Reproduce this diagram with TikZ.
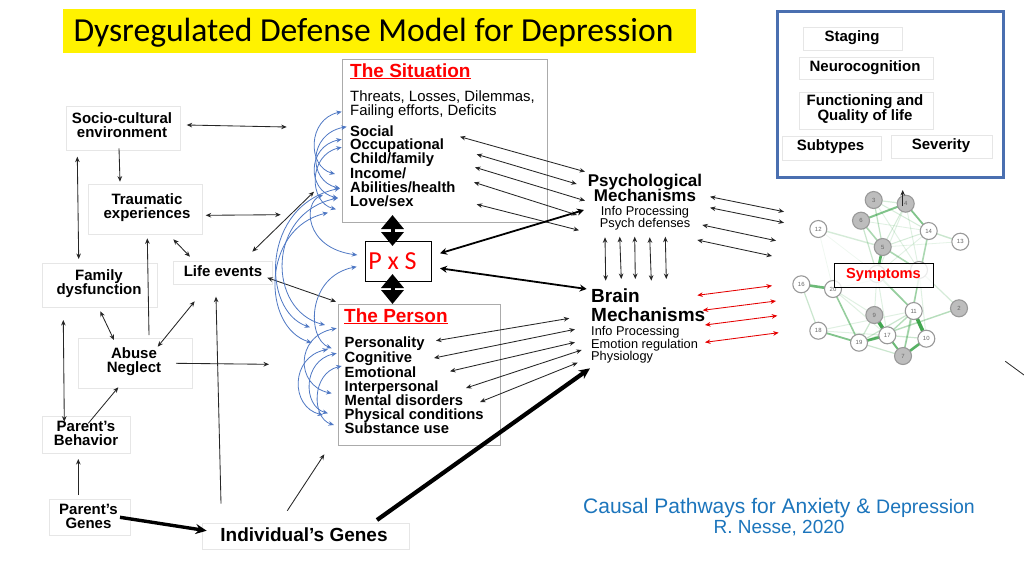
\documentclass[tikz,border=0pt]{standalone}
\usepackage{fontspec}
\setmainfont{Liberation Sans}
\newfontfamily\calib{Carlito}
\usetikzlibrary{arrows.meta}
\definecolor{boxgray}{HTML}{E6E6E6}
\definecolor{framegray}{HTML}{ABABAB}
\definecolor{arcblue}{HTML}{4F78C4}
\definecolor{framedblue}{HTML}{4A6FB0}
\definecolor{netgreen}{HTML}{2E9E3E}
\definecolor{footblue}{HTML}{1C75BC}
\definecolor{netfill}{HTML}{BDBDBD}
\definecolor{netline}{HTML}{999999}
\definecolor{netlabel}{HTML}{666666}
\newcommand{\fsz}[1]{\fontsize{#1}{14}\selectfont}
\tikzset{
  box/.style={draw=boxgray,line width=.8pt,fill=white,inner sep=0pt},
  frame/.style={draw=framegray,line width=.9pt,fill=white,inner sep=0pt},
  btxt/.style={inner sep=0pt,align=center,font=\fsz{15}\bfseries},
  txt/.style={inner sep=0pt,anchor=base west},
  ctr/.style={inner sep=0pt,anchor=base},
  listb/.style={txt,font=\fsz{14.8}\bfseries},
  small/.style={font=\fsz{12.8}},
  thin2/.style={line width=.85pt,draw=black!85,{Stealth[length=5.5pt,width=4.6pt]}-{Stealth[length=5.5pt,width=4.6pt]}},
  thin1/.style={line width=.85pt,draw=black!85,-{Stealth[length=5.5pt,width=4.6pt]}},
  red2/.style={line width=.85pt,draw=red!90!black,{Stealth[length=5.5pt,width=4.6pt]}-{Stealth[length=5.5pt,width=4.6pt]}},
  heavy2/.style={line width=1.8pt,{Stealth[length=7pt,width=7pt]}-{Stealth[length=7pt,width=7pt]}},
  heavy1/.style={line width=#1,-{Stealth[length=11pt,width=10pt]}},
  fat2/.style={line width=4pt,{Triangle[length=14pt,width=22pt]}-{Triangle[length=14pt,width=22pt]}},
  arc/.style={line width=.8pt,draw=arcblue,{Stealth[length=5.5pt,width=4.6pt]}-{Stealth[length=5.5pt,width=4.6pt]}},
  nwhite/.style={circle,draw=netline,line width=1.1pt,fill=white,minimum size=17pt,inner sep=0pt,text=netlabel,font=\fsz{6}},
  ngrey/.style={nwhite,fill=netfill},
}
\begin{document}
\begin{tikzpicture}[x=1pt,y=-1pt]
\useasboundingbox (0,0) rectangle (1024,576);
\fill[white] (0,0) rectangle (1024,576);

% title
\node[fill=yellow,minimum width=633pt,minimum height=44pt,inner sep=0pt] (title) at (379.5,31) {};
\node[inner sep=0pt,font=\calib\fsz{33.6}] (titleT) at (373.5,33) {Dysregulated Defense Model for Depression};

% framed panel
\node[draw=framedblue,line width=3pt,fill=white,minimum width=226pt,minimum height=166pt,inner sep=0pt] (panel) at (890.5,94) {};
\node[box,minimum width=99pt,minimum height=23pt] (staging) at (852.5,38.5) {};
\node[btxt] (stagingT) at (852,38) {Staging};
\node[box,minimum width=134pt,minimum height=22pt] (neuro) at (866,68) {};
\node[btxt] (neuroT) at (865,67.5) {Neurocognition};
\node[box,minimum width=134pt,minimum height=37pt] (func) at (866,110.5) {};
\node[btxt] (funcT) at (865,109) {Functioning and\\Quality of life};
\node[box,minimum width=99pt,minimum height=24pt] (subt) at (831.5,148) {};
\node[btxt] (subtT) at (830.5,147) {Subtypes};
\node[box,minimum width=101pt,minimum height=23pt] (sev) at (941.5,146.5) {};
\node[btxt] (sevT) at (941,146) {Severity};

% left boxes
\node[box,minimum width=114pt,minimum height=44pt] (socio) at (123,128) {};
\node[btxt] (socioT) at (122,125) {Socio-cultural\\environment};
\node[box,minimum width=114pt,minimum height=50pt] (trauma) at (145,209) {};
\node[btxt] (traumaT) at (147,208) {Traumatic\\experiences};
\node[box,minimum width=115pt,minimum height=44pt] (family) at (99.5,285) {};
\node[btxt] (familyT) at (99,284) {Family\\dysfunction};
\node[box,minimum width=99pt,minimum height=23pt] (life) at (222.5,272.5) {};
\node[btxt] (lifeT) at (223,271) {Life events};
\node[box,minimum width=114pt,minimum height=50pt] (abuse) at (135,363) {};
\node[btxt] (abuseT) at (134,362) {Abuse\\Neglect};
\node[box,minimum width=88pt,minimum height=37pt] (behav) at (86,434.5) {};
\node[btxt] (behavT) at (86,433.5) {Parent’s\\Behavior};
\node[box,minimum width=81pt,minimum height=36pt] (pgenes) at (89.5,517) {};
\node[btxt] (pgenesT) at (88.5,516) {Parent’s\\Genes};
\node[box,minimum width=207pt,minimum height=26pt] (igenes) at (305.5,536) {};
\node[btxt,font=\fsz{19}\bfseries] (igenesT) at (304,534.5) {Individual’s Genes};

% situation
\node[frame,minimum width=205pt,minimum height=163pt] (sit) at (444.5,140.5) {};
\node[txt,text=red,font=\fsz{19}\bfseries] (sitH) at (350,77) {\underline{The Situation}};
\node[txt,font=\fsz{14.9}] (sitA) at (350,101) {Threats, Losses, Dilemmas,};
\node[txt,font=\fsz{14.9}] (sitB) at (350,115) {Failing efforts, Deficits};
\node[listb] (s1) at (350,136) {Social};
\node[listb] (s2) at (350,149.5) {Occupational};
\node[listb] (s3) at (350,163.5) {Child/family};
\node[listb] (s4) at (350,178.3) {Income/};
\node[listb] (s5) at (350,192.3) {Abilities/health};
\node[listb] (s6) at (350,206) {Love/sex};

% P x S
\node[draw=black,line width=.9pt,fill=white,minimum width=66pt,minimum height=40pt,inner sep=0pt] (pxs) at (398,261) {};
\node[inner sep=0pt,text=red,font=\calib\fsz{26}] (pxsT) at (392.5,261) {P\hspace{.22em}x\hspace{.22em}S};

% person
\node[frame,minimum width=162pt,minimum height=141pt] (per) at (419,374.5) {};
\node[txt,text=red,font=\fsz{19}\bfseries] (perH) at (344,322) {\underline{The Person}};
\node[listb] (p1) at (344.5,347.7) {Personality};
\node[listb] (p2) at (344.5,362.7) {Cognitive};
\node[listb] (p3) at (344.5,377) {Emotional};
\node[listb] (p4) at (344.5,391.3) {Interpersonal};
\node[listb] (p5) at (344.5,405.7) {Mental disorders};
\node[listb] (p6) at (344.5,419.3) {Physical conditions};
\node[listb] (p7) at (344.5,433.3) {Substance use};

% mechanisms
\node[ctr,font=\fsz{17}\bfseries] (psy1) at (645,186) {Psychological};
\node[ctr,font=\fsz{17}\bfseries] (psy2) at (645,201.7) {Mechanisms};
\node[ctr,small] (psy3) at (645,215) {Info Processing};
\node[ctr,small] (psy4) at (645,227.7) {Psych defenses};
\node[txt,font=\fsz{19}\bfseries] (br1) at (591,302.7) {Brain};
\node[txt,font=\fsz{19}\bfseries] (br2) at (591,321) {Mechanisms};
\node[txt,small] (br3) at (591,335) {Info Processing};
\node[txt,small] (br4) at (591,348.3) {Emotion regulation};
\node[txt,small] (br5) at (591,360) {Physiology};

% footer
\node[inner sep=0pt,text=footblue,font=\fsz{21}] (foot1) at (779,508.5) {Causal Pathways for Anxiety \& {\fsz{19.5}Depression}};
\node[inner sep=0pt,text=footblue,font=\fsz{19}] (foot2) at (779,528) {R. Nesse, 2020};

% network nodes
\foreach \n/\x/\y in {3/873.7/200,4/905.7/203.7,6/861/220.7,12/818.3/229,14/928.7/231,13/960.3/241.7,5/882.7/247,16/801.3/284.3,20/833/289,1/877/274,15/919/270,9/874.3/315,11/913.7/311,2/959/308.3,18/818.3/330.7,19/859/342.7,17/887.3/335.3,10/926.3/338.7,7/903/356}
  {\coordinate (c\n) at (\x,\y);}
\foreach \a/\b/\w/\o in {16/20/2.6/.7,9/17/3.6/.9,11/10/3.6/.9,7/10/2.6/.8,19/17/2.6/.8,17/7/2/.7,6/4/2/.6,4/14/1.8/.6,5/1/2.6/.8,18/19/1.8/.6,20/19/1.6/.5,1/11/1.7/.5,5/15/1.6/.4,14/7/1.6/.4,16/18/1.2/.25,12/5/1.4/.2,14/13/1.4/.25,3/4/1.2/.2,3/5/1.2/.3,6/5/1.6/.4,6/1/1.2/.25,2/19/1.4/.35,17/10/1.2/.25,11/17/1.4/.35,11/19/1.2/.25,19/7/1.2/.25,15/2/1.2/.2,9/19/1.2/.25,18/17/1/.15,18/11/1/.15,4/5/1/.2,4/1/1/.15,3/14/1/.2,5/14/1/.2,5/13/.8/.12,20/15/1/.15,1/17/1/.15,1/9/1/.15,15/11/1/.15,15/10/1/.15,20/9/1/.15,20/17/1/.15,6/14/.8/.15,12/20/.7/.08,14/1/.8/.15,3/15/.9/.15,4/15/.9/.15,12/1/.7/.08,11/7/1.2/.2}
  {\draw[netgreen,line width=\w pt,opacity=\o] (c\a) -- (c\b);}
\foreach \n/\x/\y/\s in {3/873.7/200/ngrey,4/905.7/203.7/ngrey,6/861/220.7/ngrey,12/818.3/229/nwhite,14/928.7/231/nwhite,13/960.3/241.7/nwhite,5/882.7/247/ngrey,16/801.3/284.3/nwhite,20/833/289/nwhite,9/874.3/315/ngrey,11/913.7/311/nwhite,2/959/308.3/ngrey,18/818.3/330.7/nwhite,19/859/342.7/nwhite,17/887.3/335.3/nwhite,10/926.3/338.7/nwhite,7/903/356/ngrey}
  {\node[\s] (n\n) at (\x,\y) {\n};}
\node[nwhite] (n1) at (877,274) {};
\node[nwhite] (n15) at (919,270) {};
\node[draw=black,line width=.9pt,fill=white,fill opacity=.8,text opacity=1,draw opacity=1,minimum width=99pt,minimum height=24pt,inner sep=0pt,text=red,font=\fsz{14.6}\bfseries] (sym) at (883.5,275) {Symptoms};

% two-headed thin arrows
\foreach \n/\ax/\ay/\bx/\by in {
  sociosit/186.7/125/286.7/127, sociofam/77.3/156.7/78.7/259, traumasit/205.7/215.3/280.7/214.7,
  traumalife/173.3/239.3/190/256.7, lifesit/252.3/251.7/314/191.7, lifeper/267.3/277.7/336/301.7,
  abuselife/157.7/346.7/194.7/301.3, famabuse/100.3/311.3/114/340, fambehav/63.3/320/64.3/421.7,
  sitpsyA/460/136.7/585/171.7, sitpsyB/476.7/154.3/576.7/184, sitpsyC/475/167.3/585/200.7,
  sitpsyD/474/182.3/577/215, sitpsyE/476.7/204.3/579/230.3,
  perbrA/436/340.7/569.3/318.3, perbrB/434/358/575/329.3, perbrC/450/371.3/575/342.3,
  perbrD/466/388/581.7/350, perbrE/480/402/577.7/362.7,
  psysymA/710/196.7/784/211.7, psysymB/710/207.7/784/222.7, psysymC/702.3/225/776/240.7, psysymD/697.3/240/772/256,
  vertA/605/237.3/605.7/280.7, vertB/619.7/236.7/621.3/279, vertC/634.7/236.7/635.3/279,
  vertD/649.7/237.3/651.3/280.7, vertE/665.3/236.7/666.3/279}
{\coordinate (\n-a) at (\ax,\ay); \coordinate (\n-b) at (\bx,\by); \draw[thin2] (\n-a) -- (\n-b);}

% one-headed thin arrows
\foreach \n/\ax/\ay/\bx/\by in {
  sociotrauma/119/148.3/120/181.7, abusetrauma/149/335/147.3/238.3, igeneslife/221/503.7/216/296.7,
  abuseright/176/363.3/269/364.3, behavabuse/88.3/423.3/118.3/387.3, pgenesbehav/78.3/495/78.3/459,
  igenesper/287.3/510.7/324.3/454.3, symup/902.7/206/902.7/190}
{\coordinate (\n-a) at (\ax,\ay); \coordinate (\n-b) at (\bx,\by); \draw[thin1] (\n-a) -- (\n-b);}

% red arrows
\foreach \n/\ax/\ay/\bx/\by in {
  brsymA/697.3/295.3/772/285.7, brsymB/702.7/310.3/776/301, brsymC/705/325/777.3/315.7, brsymD/705/342.3/778.7/332.7}
{\coordinate (\n-a) at (\ax,\ay); \coordinate (\n-b) at (\bx,\by); \draw[red2] (\n-a) -- (\n-b);}

% heavy arrows
\coordinate (hpsy-a) at (440,253.3); \coordinate (hpsy-b) at (584,210);
\draw[heavy2] (hpsy-a) -- (hpsy-b);
\coordinate (hbr-a) at (440,268.3); \coordinate (hbr-b) at (586.7,289);
\draw[heavy2] (hbr-a) -- (hbr-b);
\coordinate (genes-a) at (120,517.3); \coordinate (genes-b) at (206.7,530.7);
\draw[heavy1=3.4pt] (genes-a) -- (genes-b);
\coordinate (gbr-a) at (377,520); \coordinate (gbr-b) at (590,368.3);
\draw[heavy1=4.2pt] (gbr-a) -- (gbr-b);
\coordinate (fs-a) at (392.5,215); \coordinate (fs-b) at (392.5,246);
\draw[fat2] (fs-a) -- (fs-b);
\coordinate (fp-a) at (392.5,274); \coordinate (fp-b) at (392.5,304);
\draw[fat2] (fp-a) -- (fp-b);

% stray line
\coordinate (stray-a) at (1005.3,361.3); \coordinate (stray-b) at (1024,375);
\draw[line width=.8pt,black!85] (stray-a) -- (stray-b);

% blue arcs
\foreach \n/\ax/\ay/\bx/\by/\X in {
  sA/341.7/111.7/335/174/315, sB/346.7/126.7/340/188.3/316.7, sC/341.7/139.3/338/198/315, sD/341.7/147.3/336/209.3/316,
  pxA/323/195/357.3/255/312.7, pxB/356.7/266.7/331.7/348.3/316,
  lA/340/188.3/310/327.3/277, lB/338/198/325/325/283, lC/328/212.7/311.7/342.7/276,
  pA/336.7/328.3/331.7/393.3/305, pB/328/349.3/323/415/299, pC/336.7/353.3/328/413.3/310, pD/341.7/366/334/425/318}
{
  \pgfmathsetmacro\cx{(\X-(\ax+\bx)/8)/0.75}
  \pgfmathsetmacro\ca{\ay+.12*(\by-\ay)}
  \pgfmathsetmacro\cb{\by-.12*(\by-\ay)}
  \coordinate (\n-a) at (\ax,\ay); \coordinate (\n-b) at (\bx,\by);
  \draw[arc] (\n-a) .. controls (\cx,\ca) and (\cx,\cb) .. (\n-b);
}
\end{tikzpicture}
\end{document}
